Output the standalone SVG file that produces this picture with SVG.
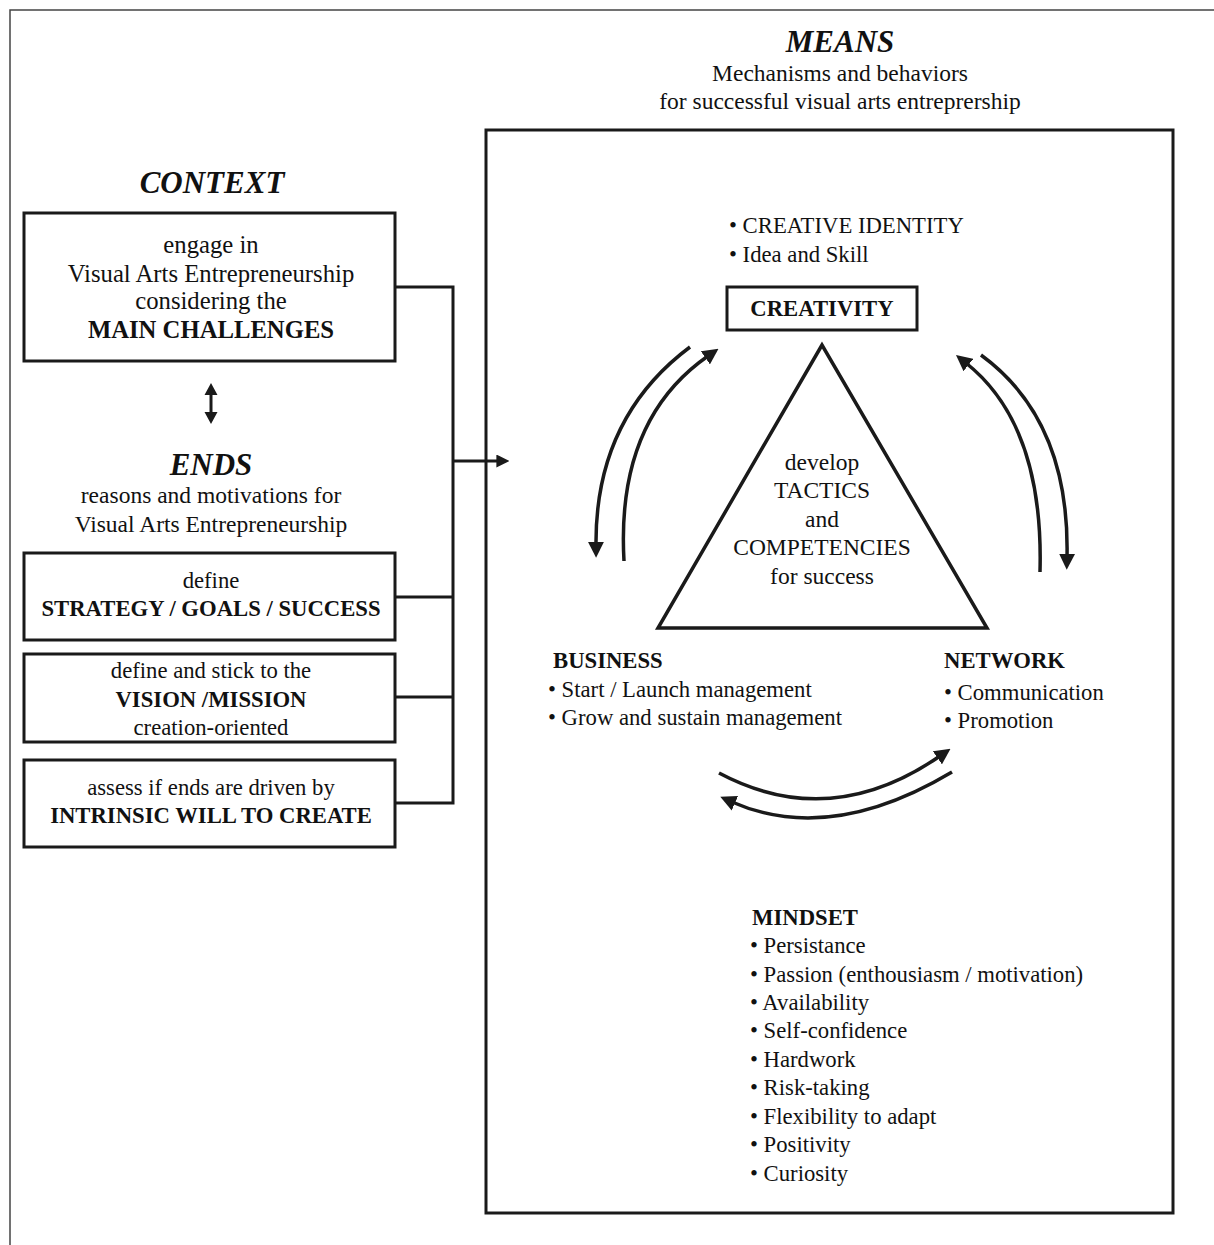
<svg xmlns="http://www.w3.org/2000/svg" width="1214" height="1245" viewBox="0 0 1214 1245">
<defs>
<style>
text{font-family:"Liberation Serif","Times New Roman",serif;fill:#111;font-size:22.7px}
.c{text-anchor:middle}
.b{font-weight:bold}
.l{font-size:24.7px}
.m{font-size:23.5px}
.h{font-weight:bold;font-style:italic;font-size:31px}
.box{fill:none;stroke:#1a1a1a;stroke-width:3}
.ln{fill:none;stroke:#1a1a1a;stroke-width:3}
.arc{fill:none;stroke:#1a1a1a;stroke-width:3.5}
</style>
<marker id="ah" viewBox="0 0 10 10" refX="2" refY="5" markerWidth="16" markerHeight="16" markerUnits="userSpaceOnUse" orient="auto">
<path d="M0,0 L10,5 L0,10 z" fill="#1a1a1a"/>
</marker>
<marker id="ah2" viewBox="0 0 10 10" refX="2" refY="5" markerWidth="13" markerHeight="13" markerUnits="userSpaceOnUse" orient="auto">
<path d="M0,0 L10,5 L0,10 z" fill="#1a1a1a"/>
</marker>
</defs>
<rect width="1214" height="1245" fill="#fff"/>
<path d="M10,1245 V10 H1214" fill="none" stroke="#444" stroke-width="1.5"/>

<g id="context">
<text class="h c" x="212" y="193">CONTEXT</text>
</g>
<g id="box-challenges">
<rect class="box" x="24" y="213" width="371" height="148"/>
<text class="c l" x="211" y="253">engage in</text>
<text class="c l" x="211" y="282">Visual Arts Entrepreneurship</text>
<text class="c l" x="211" y="309">considering the</text>
<text class="c b l" x="211" y="338">MAIN CHALLENGES</text>
</g>
<g id="ends">
<text class="h c" x="211" y="475">ENDS</text>
<text class="c m" x="211" y="503">reasons and motivations for</text>
<text class="c m" x="211" y="532">Visual Arts Entrepreneurship</text>
</g>
<g id="box-strategy">
<rect class="box" x="24" y="553" width="371" height="87"/>
<text class="c" x="211" y="588">define</text>
<text class="c b" x="211" y="616">STRATEGY / GOALS / SUCCESS</text>
</g>
<g id="box-vision">
<rect class="box" x="24" y="654" width="371" height="88"/>
<text class="c" x="211" y="678">define and stick to the</text>
<text class="c b" x="211" y="707">VISION /MISSION</text>
<text class="c" x="211" y="735">creation-oriented</text>
</g>
<g id="box-intrinsic">
<rect class="box" x="24" y="760" width="371" height="87"/>
<text class="c" x="211" y="795">assess if ends are driven by</text>
<text class="c b" x="211" y="823">INTRINSIC WILL TO CREATE</text>
</g>

<g id="means">
<text class="h c" x="840" y="52">MEANS</text>
<text class="c m" x="840" y="81">Mechanisms and behaviors</text>
<text class="c m" x="840" y="109">for successful visual arts entreprership</text>
<rect class="box" x="486" y="130" width="687" height="1083"/>
</g>
<g id="creativity">
<text x="729" y="233">• CREATIVE IDENTITY</text>
<text x="729" y="262">• Idea and Skill</text>
<rect class="box" x="727" y="287" width="190" height="43"/>
<text class="c b" x="822" y="316">CREATIVITY</text>
</g>
<g id="tactics">
<path d="M822,345 L658,628 L987,628 Z" fill="none" stroke="#1a1a1a" stroke-width="3.5" stroke-linejoin="miter"/>
<text class="c m" x="822" y="470">develop</text>
<text class="c m" x="822" y="498">TACTICS</text>
<text class="c m" x="822" y="527">and</text>
<text class="c m" x="822" y="555">COMPETENCIES</text>
<text class="c m" x="822" y="584">for success</text>
</g>
<g id="business">
<text class="b" x="553" y="668">BUSINESS</text>
<text x="548" y="697">• Start / Launch management</text>
<text x="548" y="725">• Grow and sustain management</text>
</g>
<g id="network">
<text class="b" x="944" y="668">NETWORK</text>
<text x="944" y="700">• Communication</text>
<text x="944" y="728">• Promotion</text>
</g>
<g id="mindset">
<text class="b" x="752" y="925">MINDSET</text>
<text x="750" y="953">• Persistance</text>
<text x="750" y="982">• Passion (enthousiasm / motivation)</text>
<text x="750" y="1010">• Availability</text>
<text x="750" y="1038">• Self-confidence</text>
<text x="750" y="1067">• Hardwork</text>
<text x="750" y="1095">• Risk-taking</text>
<text x="750" y="1124">• Flexibility to adapt</text>
<text x="750" y="1152">• Positivity</text>
<text x="750" y="1181">• Curiosity</text>
</g>

<g id="connectors">
<path class="ln" d="M211,393 V414" />
<path d="M204.5,395 L211,383 L217.5,395 Z M204.5,412 L211,424 L217.5,412 Z" fill="#1a1a1a"/>
<path class="ln" d="M395,287 H453 V803 H395 M395,597 H453 M395,697 H453"/>
<path class="ln" d="M453,461 H499" marker-end="url(#ah2)"/>
<path class="arc" d="M690,347 Q595,418 596,545" marker-end="url(#ah)"/>
<path class="arc" d="M624,561 Q616,420 708,356" marker-end="url(#ah)"/>
<path class="arc" d="M1040,572 Q1044,425 966,363" marker-end="url(#ah)"/>
<path class="arc" d="M981,355 Q1070,420 1067,557" marker-end="url(#ah)"/>
<path class="arc" d="M719,773 Q830,832 940,756" marker-end="url(#ah)"/>
<path class="arc" d="M952,772 Q830,845 732,802" marker-end="url(#ah)"/>
</g>
</svg>
